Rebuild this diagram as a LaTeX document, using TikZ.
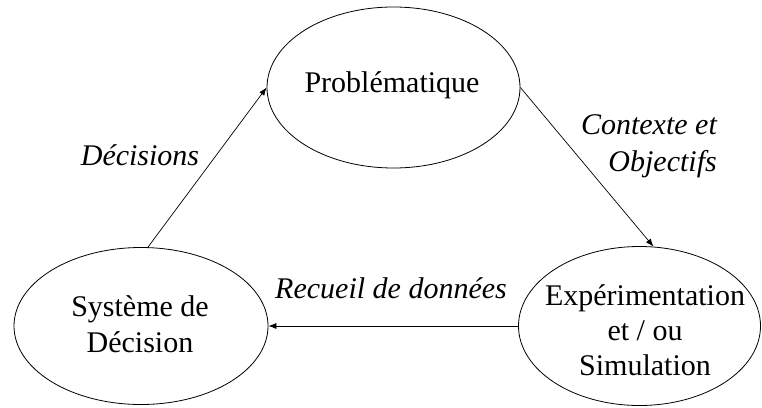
\documentclass[tikz,border=0pt]{standalone}
\usepackage{fontspec}
\setmainfont{Liberation Serif}
\usetikzlibrary{shapes.geometric,arrows.meta}
\begin{document}
\begin{tikzpicture}[x=1pt,y=-1pt,
  oval/.style={draw=black,line width=0.8pt,ellipse,inner sep=0pt},
  bodytext/.style={inner sep=0pt,font=\fontsize{30}{36}\selectfont,align=center},
  edgetext/.style={inner sep=0pt,font=\fontsize{30}{37}\selectfont\itshape},
  link/.style={line width=0.7pt,-{Latex[length=8pt,width=6pt]}}]
\useasboundingbox (0,0) rectangle (762,407);
% ellipses
\node[oval,minimum width=253pt,minimum height=161pt] (T) at (393.5,87.5) {};
\node[oval,minimum width=254pt,minimum height=157pt] (L) at (141,326) {};
\node[oval,minimum width=242pt,minimum height=159pt] (R) at (639.5,326) {};
% texts in ellipses
\node[bodytext,anchor=base] (Tt) at (392,92) {Problématique};
\node[bodytext,anchor=north] (Lt) at (140,295.5) {Système de\\Décision};
\node[bodytext,anchor=north,font=\fontsize{30}{35}\selectfont] (Rt) at (645,284.5) {Expérimentation\\et / ou\\Simulation};
% connectors
\draw[link] (L.85) -- (T.west);
\draw[link] (T.east) -- (R.80);
\draw[link] (R.west) -- (L.east);
% labels
\node[edgetext,anchor=base] (d) at (140,165) {Décisions};
\node[edgetext,anchor=north east,align=right] (c) at (717,114.7) {Contexte et\\Objectifs};
\node[edgetext,anchor=base] (r) at (391,298) {Recueil de données};
\end{tikzpicture}
\end{document}
